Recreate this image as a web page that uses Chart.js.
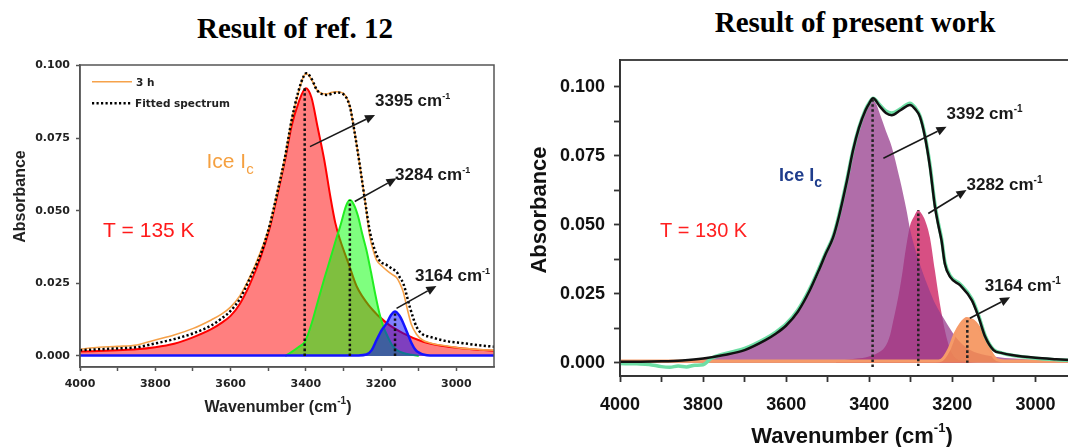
<!DOCTYPE html>
<html><head><meta charset="utf-8">
<script src="https://cdn.jsdelivr.net/npm/chart.js@4.4.1/dist/chart.umd.min.js"></script>
<style>
html,body{margin:0;padding:0;width:1068px;height:447px;overflow:hidden;background:#fff;}
#wrap{position:relative;width:1068px;height:447px;overflow:hidden;background:#fff;}
.t{position:absolute;font-family:"Liberation Serif","Times New Roman",serif;font-weight:bold;font-size:29px;white-space:nowrap;transform:translate(-50%,-50%);color:#000;}
.box{position:absolute;top:0;height:447px;}
</style></head><body>
<div id="wrap">
<div class="t" style="left:295px;top:28px">Result of ref. 12</div>
<div class="t" style="left:855px;top:22px">Result of present work</div>
<div class="box" style="left:0;width:510px"><canvas id="c1"></canvas></div>
<div class="box" style="left:520px;width:560px"><canvas id="c2"></canvas></div>
</div>
<script>
// ---------- Left panel (Result of ref. 12) ----------
const refXTicks = [4000,3900,3800,3700,3600,3500,3400,3300,3200,3100,3000];
const refXLabels = [4000,3800,3600,3400,3200,3000];
const refYTicks = [0,0.025,0.05,0.075,0.1];

const refDataWn = [4000,3950,3900,3849,3800,3750,3699,3650,3625,3600,3575,3553,3520,3495,3478,3456,3438,3420,3405,3398,3385,3370,3345,3330,3318,3301,3283,3270,3256,3243,3230,3220,3212,3198,3185,3170,3159,3150,3141,3130,3120,3106,3090,3070,3030,2982,2940,2900];
const refData3h = [0.0023,0.003,0.0033,0.0038,0.0055,0.0072,0.0095,0.0125,0.0143,0.0168,0.0208,0.026,0.036,0.0455,0.055,0.068,0.081,0.0905,0.0965,0.0972,0.0952,0.0915,0.0902,0.0908,0.091,0.0905,0.086,0.0767,0.0652,0.0537,0.0411,0.036,0.033,0.031,0.0295,0.028,0.027,0.025,0.022,0.016,0.011,0.0075,0.0055,0.0045,0.0035,0.0026,0.0022,0.002];

const refFitWn = [4000,3900,3849,3800,3750,3699,3650,3625,3600,3575,3553,3520,3495,3478,3456,3438,3420,3405,3398,3385,3370,3345,3318,3301,3283,3270,3256,3243,3230,3218,3205,3185,3170,3159,3150,3141,3124,3106,3090,3070,3030,2982,2940,2900];
const refFit = [0.002,0.0026,0.003,0.0043,0.0058,0.0078,0.0106,0.0128,0.0155,0.0197,0.0255,0.035,0.0455,0.055,0.068,0.081,0.091,0.0965,0.0974,0.0955,0.0915,0.0899,0.0907,0.0902,0.0859,0.0767,0.0652,0.0537,0.043,0.037,0.033,0.0313,0.030,0.029,0.027,0.025,0.017,0.0101,0.0075,0.0066,0.0052,0.0044,0.0037,0.0032];

const refRedWn = [4000,3900,3850,3800,3750,3700,3650,3625,3600,3575,3550,3520,3495,3478,3456,3438,3420,3400,3385,3369,3351,3335,3322,3309,3287,3265,3230,3185,3141,3088,3040,2982,2900];
const refRed = [0.0015,0.002,0.0023,0.003,0.0042,0.0064,0.0093,0.0113,0.0138,0.018,0.0243,0.034,0.0445,0.054,0.067,0.079,0.087,0.0922,0.089,0.079,0.0675,0.055,0.046,0.040,0.032,0.024,0.017,0.0113,0.0078,0.0049,0.0035,0.0026,0.0018];

const refGreenWn = [3455,3440,3420,3402,3385,3367,3350,3336,3320,3309,3292,3283,3272,3261,3250,3239,3227,3216,3205,3194,3180,3168,3155,3141,3120,3100];
const refGreen = [0,0.0012,0.003,0.005,0.011,0.0193,0.027,0.033,0.040,0.0445,0.052,0.0537,0.052,0.048,0.042,0.0365,0.029,0.0216,0.015,0.0101,0.006,0.0032,0.0018,0.001,0.0004,0];

const refBlueWn = [4000,3260,3239,3225,3212,3198,3185,3174,3163,3152,3141,3130,3119,3108,3097,3085,3070,2900];
const refBlue = [0.0002,0.0002,0.0005,0.002,0.0055,0.009,0.0113,0.014,0.0153,0.014,0.0113,0.0078,0.0044,0.002,0.001,0.0004,0.0002,0.0002];

const refPeakWn = [3403,3283,3163];
const refPeakTop = [0.0922,0.0537,0.0153];
const refPeakLabels = ['3395 cm','3284 cm','3164 cm'];
const refArrowFrom = [[3389,0.0721],[3270,0.0532],[3159,0.0164]];
const refArrowTo = [[3216,0.083],[3159,0.0612],[3053,0.0241]];
const refLabelAt = [[3216,0.0861],[3163,0.0606],[3110,0.0259]];

// ---------- Right panel (Result of present work) ----------
const pwXTicks = [4000,3900,3800,3700,3600,3500,3400,3300,3200,3100,3000];
const pwXLabels = [4000,3800,3600,3400,3200,3000];
const pwYTicks = [0,0.0125,0.025,0.0375,0.05,0.0625,0.075,0.0875,0.1];
const pwYLabels = [0,0.025,0.05,0.075,0.1];

const pwFitWn = [4000,3950,3900,3850,3800,3750,3700,3650,3625,3600,3572,3544,3520,3505,3487,3473,3455,3439,3425,3409,3400,3391,3375,3360,3346,3325,3302,3290,3278,3266,3254,3242,3234,3226,3218,3205,3181,3153,3137,3121,3101,3080,3057,3000,2950,2900];
const pwFit = [0.0004,0.0004,0.0005,0.0008,0.0015,0.0028,0.0046,0.0082,0.0105,0.0135,0.0185,0.026,0.034,0.0394,0.0454,0.053,0.065,0.077,0.085,0.0915,0.094,0.0958,0.093,0.0905,0.0897,0.0915,0.0934,0.092,0.0891,0.0819,0.071,0.0566,0.050,0.0442,0.0358,0.031,0.028,0.0226,0.0166,0.0094,0.0046,0.0035,0.0028,0.0018,0.0013,0.0009];

const pwDataWn = [4000,3960,3930,3900,3880,3860,3840,3820,3800,3780,3750,3700,3650,3625,3600,3572,3544,3520,3505,3487,3473,3455,3439,3425,3409,3400,3391,3375,3360,3346,3325,3302,3290,3278,3266,3254,3242,3234,3226,3218,3205,3181,3153,3137,3121,3101,3080,3057,3000,2950,2900];
const pwData = [-0.0003,-0.0004,-0.0006,-0.0014,-0.0016,-0.0012,-0.0015,-0.0009,-0.0007,0.0016,0.0032,0.0052,0.0088,0.0111,0.0141,0.0191,0.0266,0.0345,0.0398,0.0458,0.0535,0.0655,0.0772,0.0852,0.0918,0.0942,0.0958,0.0935,0.0912,0.0905,0.092,0.094,0.0925,0.0895,0.0825,0.0718,0.0575,0.0508,0.045,0.0365,0.0315,0.0285,0.0232,0.0172,0.0098,0.0048,0.0035,0.0027,0.0016,0.0011,0.0008];

const pwPurWn = [4000,3900,3850,3800,3750,3700,3650,3625,3600,3572,3544,3520,3505,3487,3473,3455,3439,3425,3409,3400,3392,3384,3375,3360,3346,3326,3310,3302,3286,3272,3258,3240,3218,3195,3169,3140,3097,3050,3000,2900];
const pwPur = [0.0004,0.0006,0.0008,0.0014,0.0027,0.0044,0.008,0.0102,0.0132,0.018,0.0255,0.033,0.039,0.045,0.0525,0.0645,0.0765,0.0845,0.091,0.0938,0.0952,0.094,0.0904,0.084,0.0783,0.0662,0.055,0.0485,0.0394,0.033,0.0274,0.021,0.0154,0.010,0.0058,0.0035,0.0022,0.0015,0.0011,0.0008];

const pwCrWn = [3480,3459,3430,3403,3380,3362,3350,3342,3334,3326,3320,3314,3308,3302,3294,3282,3274,3266,3254,3242,3230,3218,3210,3201,3185,3160,3140];
const pwCr = [0.0005,0.001,0.0015,0.0022,0.0035,0.0058,0.010,0.0154,0.021,0.0274,0.033,0.0394,0.045,0.0496,0.0525,0.0553,0.054,0.0517,0.0454,0.0334,0.0214,0.0118,0.007,0.0034,0.001,0.0003,0];

const pwOrWn = [4000,3240,3226,3209,3193,3180,3165,3150,3137,3127,3117,3107,3097,3085,3073,2900];
const pwOr = [0.0006,0.0006,0.001,0.0046,0.0106,0.014,0.016,0.0152,0.013,0.010,0.007,0.0038,0.0016,0.0008,0.0006,0.0006];

const pwPeakWn = [3392,3282,3164];
const pwPeakTop = [0.0952,0.0553,0.016];
const pwPeakBottom = [-0.0015,-0.0012,0];
const pwPeakLabels = ['3392 cm','3282 cm','3164 cm'];
const pwArrowFrom = [[3366,0.0741],[3258,0.0541],[3158,0.0161]];
const pwArrowTo = [[3214,0.0855],[3166,0.0626],[3061,0.0237]];
const pwLabelAt = [[3214,0.0882],[3166,0.0626],[3122,0.0261]];

// ---------- helpers ----------
const SANS = '"Liberation Sans", Arial, sans-serif';
const DJ = '"DejaVu Sans", sans-serif';
const pts = (wn, ab) => wn.map((w, i) => ({x: w, y: ab[i]}));

function drawRich(ctx, x, y, parts, align, color) {
  const widths = parts.map(p => { ctx.font = p.font; return ctx.measureText(p.t).width; });
  const total = widths.reduce((s, w) => s + w, 0);
  let cx = align === 'center' ? x - total / 2 : x;
  ctx.fillStyle = color; ctx.textAlign = 'left'; ctx.textBaseline = 'alphabetic';
  parts.forEach((p, i) => { ctx.font = p.font; ctx.fillText(p.t, cx, y + (p.dy || 0)); cx += widths[i]; });
}

const annot = {
  id: 'annot',
  afterDatasetsDraw(chart, args, o) {
    const ctx = chart.ctx, a = chart.chartArea, xs = chart.scales.x, ys = chart.scales.y;
    ctx.save();
    ctx.strokeStyle = o.frameColor; ctx.lineWidth = o.frameWidth;
    ctx.strokeRect(a.left, a.top, a.right - a.left, a.bottom - a.top);
    ctx.strokeStyle = '#1a1a1a'; ctx.fillStyle = '#1a1a1a'; ctx.lineWidth = 1.6;
    o.arrows.forEach(([f, t]) => {
      const x1 = xs.getPixelForValue(f[0]), y1 = ys.getPixelForValue(f[1]);
      const x2 = xs.getPixelForValue(t[0]), y2 = ys.getPixelForValue(t[1]);
      const ang = Math.atan2(y2 - y1, x2 - x1), L = 10, W = 4.5;
      const bx = x2 - L * Math.cos(ang), by = y2 - L * Math.sin(ang);
      ctx.beginPath(); ctx.moveTo(x1, y1); ctx.lineTo(bx, by); ctx.stroke();
      ctx.beginPath(); ctx.moveTo(x2, y2);
      ctx.lineTo(bx - W * Math.sin(ang), by + W * Math.cos(ang));
      ctx.lineTo(bx + W * Math.sin(ang), by - W * Math.cos(ang));
      ctx.closePath(); ctx.fill();
    });
    (o.legend || []).forEach(l => {
      ctx.save();
      ctx.strokeStyle = l.color; ctx.lineWidth = l.width; ctx.setLineDash(l.dash || []);
      ctx.beginPath(); ctx.moveTo(l.x1, l.y); ctx.lineTo(l.x2, l.y); ctx.stroke();
      ctx.restore();
      drawRich(ctx, l.tx, l.ty, [{t: l.text, font: l.font}], 'left', '#222');
    });
    o.texts.forEach(tx => {
      const x = tx.px ? tx.at[0] : xs.getPixelForValue(tx.at[0]);
      const y = tx.px ? tx.at[1] : ys.getPixelForValue(tx.at[1]);
      if (tx.rot) {
        ctx.save(); ctx.translate(x, y); ctx.rotate(tx.rot);
        drawRich(ctx, 0, 0, tx.parts, tx.align || 'left', tx.color);
        ctx.restore();
      } else {
        drawRich(ctx, x, y, tx.parts, tx.align || 'left', tx.color);
      }
    });
    ctx.restore();
  }
};

function vlines(wn, top, bottom, color, width) {
  return wn.map((w, i) => ({
    data: [{x: w, y: bottom[i]}, {x: w, y: top[i]}],
    borderColor: color, borderWidth: width, borderDash: [2.5, 2.5], pointRadius: 0, fill: false, order: 0
  }));
}

function baseOptions(cfg) {
  return {
    responsive: true, maintainAspectRatio: false, animation: false, events: [],
    layout: {padding: cfg.padding},
    plugins: {legend: {display: false}, tooltip: {enabled: false}, annot: cfg.annot},
    elements: {line: {cubicInterpolationMode: 'monotone'}, point: {radius: 0}},
    scales: {
      x: {
        type: 'linear', reverse: true, min: 2900, max: 4000,
        afterBuildTicks: s => { s.ticks = cfg.xTicks.map(v => ({value: v})); },
        ticks: {autoSkip: false, maxRotation: 0, padding: cfg.xPad, color: cfg.tickColor, font: cfg.tickFont,
                callback: v => cfg.xLabels.includes(v) ? String(v) : ''},
        grid: {drawOnChartArea: false, drawTicks: true, tickLength: cfg.tickLen, color: cfg.axisColor, tickWidth: cfg.axisWidth},
        border: {display: true, color: cfg.axisColor, width: cfg.axisWidth},
        afterFit: s => { s.height = cfg.xHeight; }
      },
      y: {
        type: 'linear', min: cfg.yMin, max: cfg.yMax,
        afterBuildTicks: s => { s.ticks = cfg.yTicks.map(v => ({value: v})); },
        ticks: {autoSkip: false, padding: cfg.yPad, color: cfg.tickColor, font: cfg.tickFont,
                callback: v => cfg.yLabels.includes(v) ? v.toFixed(3) : ''},
        grid: {drawOnChartArea: false, drawTicks: true, tickLength: cfg.tickLen, color: cfg.axisColor, tickWidth: cfg.axisWidth},
        border: {display: true, color: cfg.axisColor, width: cfg.axisWidth},
        afterFit: s => { s.width = cfg.yWidth; }
      }
    }
  };
}

// ---------- Left chart ----------
const supL = t => ({t, font: `bold 9px ${SANS}`, dy: -7});
new Chart(document.getElementById('c1'), {
  type: 'line',
  data: {datasets: [
    {data: pts(refFitWn, refFit), borderColor: '#000', borderWidth: 2.5, borderDash: [2.2, 2.3], fill: false, order: 0},
    ...vlines(refPeakWn, refPeakTop, [0, 0, 0], '#111', 2.5),
    {data: pts(refDataWn, refData3h), borderColor: '#f6a24a', borderWidth: 1.6, fill: false, order: 1},
    {data: pts(refBlueWn, refBlue), borderColor: '#1414ff', borderWidth: 2.5, backgroundColor: 'rgba(0,0,255,0.5)', fill: 'origin', order: 2},
    {data: pts(refGreenWn, refGreen), borderColor: '#22ee22', borderWidth: 2, backgroundColor: 'rgba(0,255,0,0.5)', fill: 'origin', order: 3},
    {data: pts(refRedWn, refRed), borderColor: '#ff0000', borderWidth: 2, backgroundColor: 'rgba(255,0,0,0.5)', fill: 'origin', order: 4}
  ]},
  options: baseOptions({
    padding: {top: 65, right: 16, bottom: 0, left: 0},
    xTicks: refXTicks, xLabels: refXLabels, yTicks: refYTicks, yLabels: refYTicks,
    yMin: -0.0038, yMax: 0.1002, xHeight: 80, yWidth: 80,
    xPad: 7, yPad: 6, tickLen: 4, tickColor: '#222', axisColor: '#555', axisWidth: 1.5,
    tickFont: {family: '"DejaVu Sans", sans-serif', size: 11, weight: 'bold'},
    annot: {
      frameColor: '#555', frameWidth: 1.5,
      arrows: refArrowFrom.map((f, i) => [f, refArrowTo[i]]),
      legend: [
        {x1: 92, x2: 132, y: 81.7, color: '#f6a24a', width: 1.6, text: '3 h', tx: 136, ty: 86, font: `bold 10.5px ${DJ}`},
        {x1: 92, x2: 132, y: 103.3, color: '#000', width: 2.5, dash: [2.2, 2.3], text: 'Fitted spectrum', tx: 135, ty: 107.3, font: `bold 10.5px ${DJ}`}
      ],
      texts: [
        ...refPeakLabels.map((l, i) => ({at: refLabelAt[i], color: '#1a1a1a', parts: [{t: l, font: `bold 17px ${SANS}`}, supL('-1')]})),
        {at: [3664, 0.0648], color: '#f5a040', parts: [{t: 'Ice I', font: `21px ${SANS}`}, {t: 'c', font: `15px ${SANS}`, dy: 6}]},
        {at: [3939, 0.041], color: '#ff1a1a', parts: [{t: 'T = 135 K', font: `21px ${SANS}`}]},
        {px: true, at: [25, 196.5], rot: -Math.PI / 2, align: 'center', color: '#222', parts: [{t: 'Absorbance', font: `bold 16px ${SANS}`}]},
        {px: true, at: [278, 411.7], align: 'center', color: '#222', parts: [{t: 'Wavenumber (cm', font: `bold 16px ${SANS}`}, {t: '-1', font: `bold 10px ${SANS}`, dy: -8}, {t: ')', font: `bold 16px ${SANS}`}]}
      ]
    }
  }),
  plugins: [annot]
});

// ---------- Right chart ----------
new Chart(document.getElementById('c2'), {
  type: 'line',
  data: {datasets: [
    {data: pts(pwFitWn, pwFit), borderColor: '#111', borderWidth: 2.5, fill: false, order: 0},
    ...vlines(pwPeakWn, pwPeakTop, pwPeakBottom, '#222', 2.5),
    {data: pts(pwDataWn, pwData), borderColor: 'rgb(110,222,165)', borderWidth: 3.5, fill: false, order: 1},
    {data: pts(pwOrWn, pwOr), borderColor: 'rgb(246,155,105)', borderWidth: 3, backgroundColor: 'rgba(245,140,80,0.85)', fill: 'origin', order: 2},
    {data: pts(pwPurWn, pwPur), borderColor: 'rgba(0,0,0,0)', borderWidth: 0, backgroundColor: 'rgba(150,60,140,0.75)', fill: 'origin', order: 3},
    {data: pts(pwCrWn, pwCr), borderColor: 'rgba(0,0,0,0)', borderWidth: 0, backgroundColor: 'rgba(205,35,100,0.8)', fill: 'origin', order: 4}
  ]},
  options: baseOptions({
    padding: {top: 60, right: 3, bottom: 0, left: 0},
    xTicks: pwXTicks, xLabels: pwXLabels, yTicks: pwYTicks, yLabels: pwYLabels,
    yMin: -0.0048, yMax: 0.1097, xHeight: 71, yWidth: 100,
    xPad: 12, yPad: 9, tickLen: 6, tickColor: '#111', axisColor: '#333', axisWidth: 1.8,
    tickFont: {family: SANS, size: 18, weight: 'bold'},
    annot: {
      frameColor: '#333', frameWidth: 1.8,
      arrows: pwArrowFrom.map((f, i) => [f, pwArrowTo[i]]),
      texts: [
        ...pwPeakLabels.map((l, i) => ({at: pwLabelAt[i], color: '#1a1a1a', parts: [{t: l, font: `bold 17px ${SANS}`}, {t: '-1', font: `bold 10px ${SANS}`, dy: -7}]})),
        {at: [3617, 0.066], color: '#1f3d8c', parts: [{t: 'Ice I', font: `bold 18px ${SANS}`}, {t: 'c', font: `bold 14px ${SANS}`, dy: 6}]},
        {at: [3904, 0.0455], color: '#ff2020', parts: [{t: 'T = 130 K', font: `20px ${SANS}`}]},
        {px: true, at: [26, 210], rot: -Math.PI / 2, align: 'center', color: '#111', parts: [{t: 'Absorbance', font: `bold 22px ${SANS}`}]},
        {px: true, at: [332, 443], align: 'center', color: '#111', parts: [{t: 'Wavenumber (cm', font: `bold 22px ${SANS}`}, {t: '-1', font: `bold 13px ${SANS}`, dy: -11}, {t: ')', font: `bold 22px ${SANS}`}]}
      ]
    }
  }),
  plugins: [annot]
});
</script>
</body></html>
